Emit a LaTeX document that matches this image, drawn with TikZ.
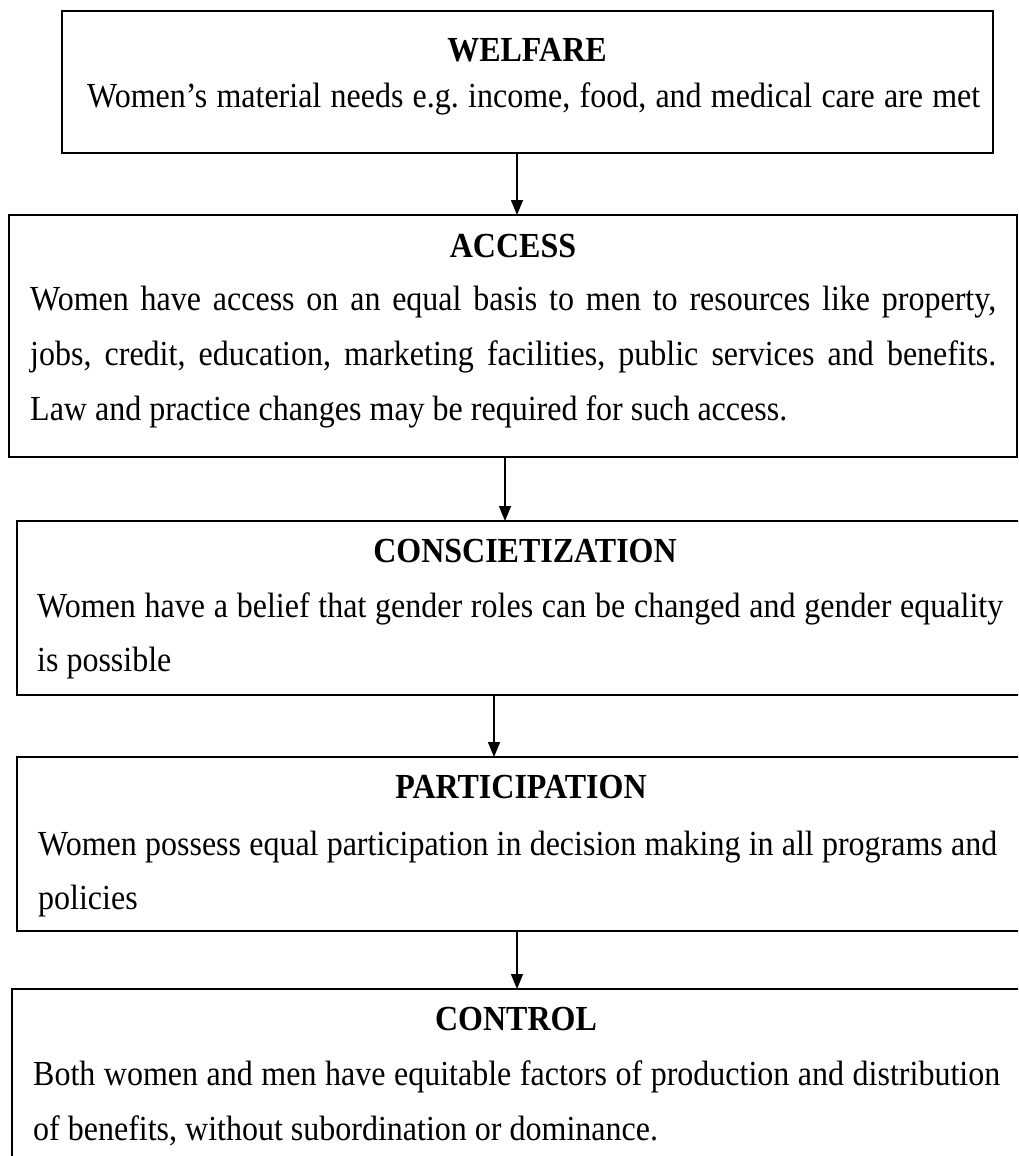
\documentclass[tikz,border=0pt]{standalone}
\usepackage{fontspec}
\usepackage{graphicx}
\setmainfont{Liberation Serif}
\usetikzlibrary{arrows.meta}
% slightly tall lettering
\newcommand{\tallbox}[1]{\scalebox{1}[1.1]{#1}}
\newcommand{\fullline}[2]{\tallbox{\makebox[#1pt][s]{#2}}}
\begin{document}
\frenchspacing
\begin{tikzpicture}[x=1pt,y=-1pt,
  frame/.style={draw=black,line width=1.8pt,anchor=north west,inner sep=0,outer sep=0},
  flow/.style={line width=1.5pt,-{Triangle[width=12pt,length=15pt]}},
  head/.style={font=\fontsize{32}{38}\selectfont\bfseries,anchor=base,inner sep=0},
  txt/.style={font=\fontsize{32}{38}\selectfont,anchor=base west,inner sep=0}]
\useasboundingbox (0,0) rectangle (1018,1156);
\clip (0,0) rectangle (1018,1156);

% frames
\node[frame,minimum width=931pt,minimum height=142pt] (welfare) at (62,11) {};
\node[frame,minimum width=1008pt,minimum height=242pt] (access) at (9,215) {};
\node[frame,minimum width=1040pt,minimum height=174pt] (consc) at (17,521) {};
\node[frame,minimum width=1040pt,minimum height=174pt] (partic) at (17,757) {};
\node[frame,minimum width=1040pt,minimum height=240pt] (control) at (12,989) {};

% welfare
\node[head] (welfareT) at (527,62) {\tallbox{WELFARE}};
\node[txt] (welfareL1) at (87,107) {\fullline{893}{Women’s material needs e.g. income, food, and medical care are met}};

% access
\node[head] (accessT) at (513,257) {\tallbox{ACCESS}};
\node[txt] (accessL1) at (30,310) {\fullline{966}{Women have access on an equal basis to men to resources like property,}};
\node[txt] (accessL2) at (30,365) {\fullline{966}{jobs, credit, education, marketing facilities, public services and benefits.}};
\node[txt] (accessL3) at (30,420) {\tallbox{Law and practice changes may be required for such access.}};

% conscietization
\node[head] (conscT) at (525,562) {\tallbox{CONSCIETIZATION}};
\node[txt] (conscL1) at (37,617) {\fullline{966}{Women have a belief that gender roles can be changed and gender equality}};
\node[txt] (conscL2) at (37,671) {\tallbox{is possible}};

% participation
\node[head] (particT) at (521,798) {\tallbox{PARTICIPATION}};
\node[txt] (particL1) at (38,855) {\fullline{959}{Women possess equal participation in decision making in all programs and}};
\node[txt] (particL2) at (38,909) {\tallbox{policies}};

% control
\node[head] (controlT) at (516,1030) {\tallbox{CONTROL}};
\node[txt] (controlL1) at (33,1085) {\fullline{967}{Both women and men have equitable factors of production and distribution}};
\node[txt] (controlL2) at (33,1140) {\tallbox{of benefits, without subordination or dominance.}};

% connectors
\coordinate (x1) at (517,0);
\coordinate (x2) at (505,0);
\coordinate (x3) at (494,0);
\coordinate (x4) at (517,0);
\draw[flow] (x1 |- welfare.south) -- (x1 |- access.north);
\draw[flow] (x2 |- access.south) -- (x2 |- consc.north);
\draw[flow] (x3 |- consc.south) -- (x3 |- partic.north);
\draw[flow] (x4 |- partic.south) -- (x4 |- control.north);
\end{tikzpicture}
\end{document}
